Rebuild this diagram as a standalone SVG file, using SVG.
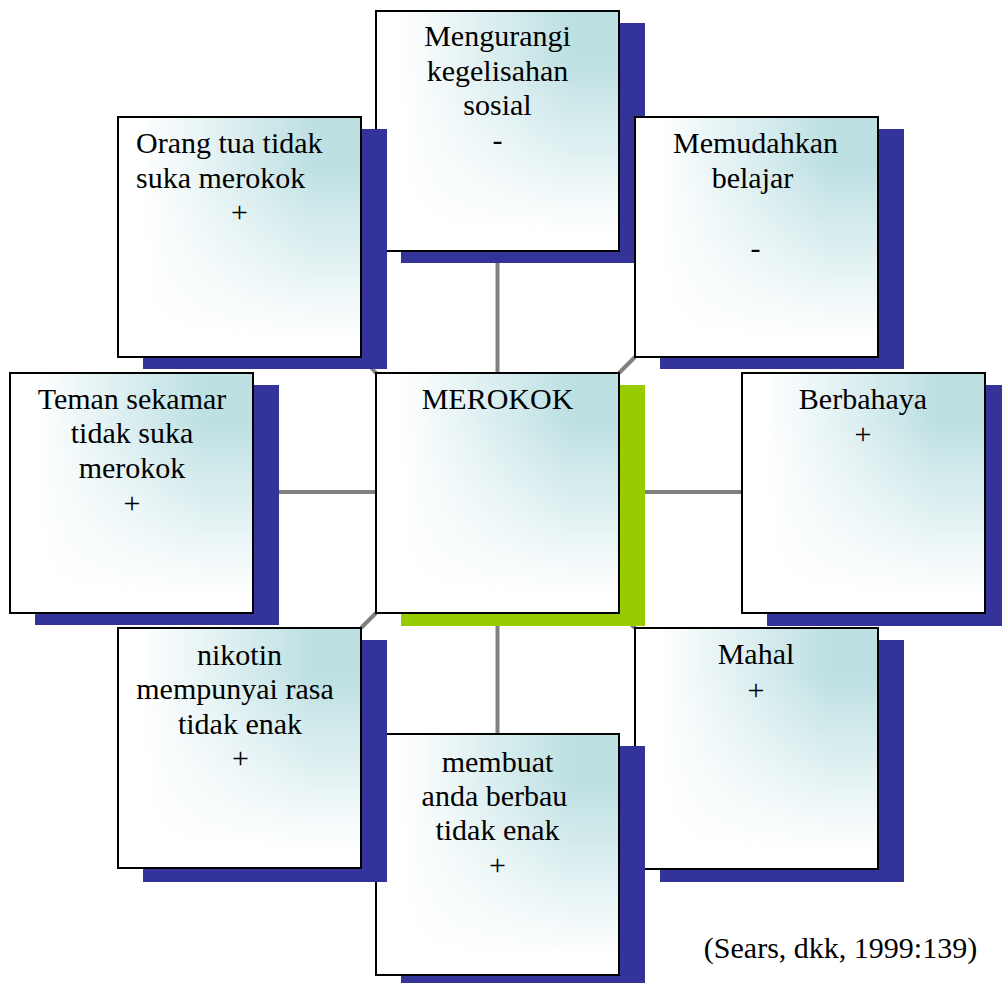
<svg xmlns="http://www.w3.org/2000/svg" width="1002" height="983" viewBox="0 0 1002 983">
<style>
.sh{fill:#333399}
.shg{fill:#99cc00}
.bg{fill:#ffffff}
.gr{fill:url(#gh)}
.bd{fill:none;stroke:#000;stroke-width:2}
.t{font-size:30px;fill:#000;text-anchor:middle}
.ts{text-anchor:start}
.c{stroke:#808080;stroke-width:4;fill:none}
</style>
<defs>
<linearGradient id="gh" x1="0" y1="0" x2="1" y2="0">
<stop offset="0.1" stop-color="#bde0e3" stop-opacity="0"/>
<stop offset="0.8" stop-color="#bde0e3" stop-opacity="1"/>
</linearGradient>
<linearGradient id="gv" x1="0" y1="0" x2="0" y2="1">
<stop offset="0.2" stop-color="#fff"/>
<stop offset="0.92" stop-color="#000"/>
</linearGradient>
<mask id="mk" maskContentUnits="objectBoundingBox"><rect width="1" height="1" fill="url(#gv)"/></mask>
</defs>
<rect width="1002" height="983" fill="#fff"/>
<g id="connectors">
<line class="c" x1="497.5" y1="251" x2="497.5" y2="373"/>
<line class="c" x1="497.5" y1="613" x2="497.5" y2="734"/>
<line class="c" x1="254" y1="492" x2="376" y2="492"/>
<line class="c" x1="619" y1="492" x2="742" y2="492"/>
<line class="c" x1="619" y1="373" x2="635" y2="357"/>
<line class="c" x1="376" y1="613" x2="361" y2="628"/>
<line class="c" x1="361" y1="357" x2="376" y2="373"/>
<line class="c" x1="619" y1="613" x2="635" y2="628"/>
</g>
<g font-family="'Liberation Serif', 'Times New Roman', 'DejaVu Serif', serif">
<g id="node-top">
<rect class="sh" x="401" y="23" width="244" height="240"/>
<rect class="bg" x="376" y="11" width="243" height="240"/>
<rect class="gr" x="376" y="11" width="243" height="240" mask="url(#mk)"/>
<rect class="bd" x="376" y="11" width="243" height="240"/>
<text class="t" x="497.5" y="46">Mengurangi</text>
<text class="t" x="497.5" y="80.5">kegelisahan</text>
<text class="t" x="497.5" y="115">sosial</text>
<text class="t" x="497.5" y="149.5">-</text>
</g>
<g id="node-orangtua">
<rect class="sh" x="143" y="129" width="244" height="240"/>
<rect class="bg" x="118" y="117" width="243" height="240"/>
<rect class="gr" x="118" y="117" width="243" height="240" mask="url(#mk)"/>
<rect class="bd" x="118" y="117" width="243" height="240"/>
<text class="t ts" x="136" y="153">Orang tua tidak</text>
<text class="t ts" x="136" y="187.5">suka merokok</text>
<text class="t" x="239.5" y="222">+</text>
</g>
<g id="node-memudahkan">
<rect class="sh" x="660" y="129" width="244" height="240"/>
<rect class="bg" x="635" y="117" width="243" height="240"/>
<rect class="gr" x="635" y="117" width="243" height="240" mask="url(#mk)"/>
<rect class="bd" x="635" y="117" width="243" height="240"/>
<text class="t" x="755.5" y="153">Memudahkan</text>
<text class="t" x="752.5" y="187.5">belajar</text>
<text class="t" x="755.5" y="257.5">-</text>
</g>
<g id="node-teman">
<rect class="sh" x="35" y="385" width="244" height="240"/>
<rect class="bg" x="10" y="373" width="243" height="240"/>
<rect class="gr" x="10" y="373" width="243" height="240" mask="url(#mk)"/>
<rect class="bd" x="10" y="373" width="243" height="240"/>
<text class="t" x="132" y="408.5">Teman sekamar</text>
<text class="t" x="132" y="443">tidak suka</text>
<text class="t" x="132" y="477.5">merokok</text>
<text class="t" x="132" y="513">+</text>
</g>
<g id="node-merokok">
<rect class="shg" x="401" y="385" width="244" height="241"/>
<rect class="bg" x="376" y="373" width="243" height="240"/>
<rect class="gr" x="376" y="373" width="243" height="240" mask="url(#mk)"/>
<rect class="bd" x="376" y="373" width="243" height="240"/>
<text class="t" x="497.5" y="409">MEROKOK</text>
</g>
<g id="node-berbahaya">
<rect class="sh" x="767" y="385" width="244" height="241"/>
<rect class="bg" x="742" y="373" width="243" height="240"/>
<rect class="gr" x="742" y="373" width="243" height="240" mask="url(#mk)"/>
<rect class="bd" x="742" y="373" width="243" height="240"/>
<text class="t" x="863" y="408.5">Berbahaya</text>
<text class="t" x="863" y="443.5">+</text>
</g>
<g id="node-mahal">
<rect class="sh" x="660" y="640" width="244" height="242"/>
<rect class="bg" x="635" y="628" width="243" height="241"/>
<rect class="gr" x="635" y="628" width="243" height="241" mask="url(#mk)"/>
<rect class="bd" x="635" y="628" width="243" height="241"/>
<text class="t" x="756" y="664">Mahal</text>
<text class="t" x="756" y="699.5">+</text>
</g>
<g id="node-membuat">
<rect class="sh" x="401" y="746" width="244" height="240"/>
<rect class="bg" x="376" y="734" width="243" height="241"/>
<rect class="gr" x="376" y="734" width="243" height="241" mask="url(#mk)"/>
<rect class="bd" x="376" y="734" width="243" height="241"/>
<text class="t" x="497.5" y="772">membuat</text>
<text class="t" x="494.5" y="806">anda berbau</text>
<text class="t" x="497.5" y="840">tidak enak</text>
<text class="t" x="497.5" y="875">+</text>
</g>
<g id="node-nikotin">
<rect class="sh" x="143" y="640" width="244" height="242"/>
<rect class="bg" x="118" y="628" width="243" height="240"/>
<rect class="gr" x="118" y="628" width="243" height="240" mask="url(#mk)"/>
<rect class="bd" x="118" y="628" width="243" height="240"/>
<text class="t" x="239.5" y="665">nikotin</text>
<text class="t" x="235" y="699">mempunyai rasa</text>
<text class="t" x="240" y="733.5">tidak enak</text>
<text class="t" x="240.5" y="768">+</text>
</g>
<text class="t" x="840.5" y="958">(Sears, dkk, 1999:139)</text>
</g>
</svg>
